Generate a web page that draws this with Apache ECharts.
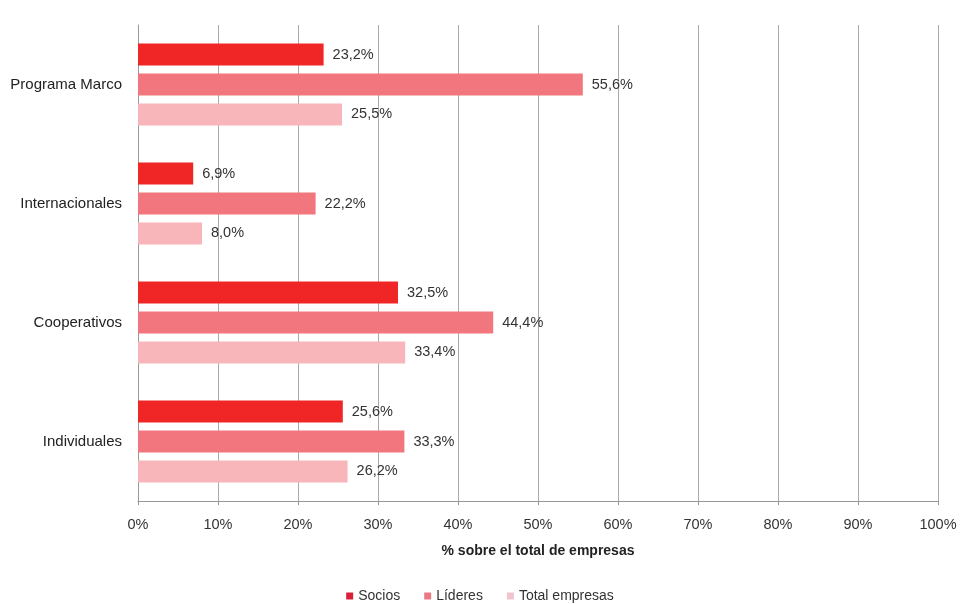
<!DOCTYPE html>
<html><head><meta charset="utf-8">
<script src="https://cdn.jsdelivr.net/npm/echarts@6/dist/echarts.min.js"></script>
<style>html,body{margin:0;padding:0;background:#fff}#c{width:960px;height:604px}</style>
</head><body><div id="c"></div>
<script>
const categories = ['Programa Marco', 'Internacionales', 'Cooperativos', 'Individuales'];
const seriesNames = ['Socios', 'Líderes', 'Total empresas'];
const socios = [23.2, 6.9, 32.5, 25.6];
const lideres = [55.6, 22.2, 44.4, 33.3];
const totalEmpresas = [25.5, 8.0, 33.4, 26.2];
const xTicks = [0, 10, 20, 30, 40, 50, 60, 70, 80, 90, 100];

const colors = ['#f02626', '#f2767d', '#f8b6ba'];
const legendColors = ['#d8203a', '#e87a86', '#f0c4cc'];
const fontFam = '"Liberation Sans", Arial, sans-serif';
const chart = echarts.init(document.getElementById('c'));
const mk = (name, data, i) => ({
  name, type: 'bar', data, barWidth: 22, barGap: '36%', barCategoryGap: '31%',
  itemStyle: { color: colors[i] },
  label: { show: true, position: 'right', distance: 9, color: '#333', fontSize: 14.5, fontFamily: fontFam,
    formatter: p => p.value.toFixed(1).replace('.', ',') + '%' }
});
chart.setOption({
  animation: false,
  textStyle: { fontFamily: fontFam },
  grid: { left: 138, right: 22, top: 25, bottom: 103, containLabel: false },
  legend: { top: 584, left: 'center', itemWidth: 7, itemHeight: 7, itemGap: 24,
    icon: 'rect', textStyle: { fontSize: 14, color: '#333', fontFamily: fontFam },
    data: seriesNames.map((n, i) => ({ name: n, itemStyle: { color: legendColors[i] } })) },
  xAxis: { type: 'value', min: xTicks[0], max: xTicks[xTicks.length - 1], interval: 10,
    name: '% sobre el total de empresas', nameLocation: 'middle', nameGap: 43,
    nameTextStyle: { fontWeight: 'bold', fontSize: 14, color: '#222', fontFamily: fontFam },
    axisLine: { show: true, lineStyle: { color: '#999' } },
    axisTick: { show: true, length: 4, lineStyle: { color: '#999' } },
    axisLabel: { formatter: v => v + '%', color: '#333', fontSize: 14.5, margin: 16, fontFamily: fontFam },
    splitLine: { show: true, lineStyle: { color: '#aaa' } } },
  yAxis: { type: 'category', data: categories, inverse: true,
    axisLine: { show: true, lineStyle: { color: '#999' } }, axisTick: { show: false },
    axisLabel: { color: '#222', fontSize: 15, margin: 16, fontFamily: fontFam } },
  series: [mk(seriesNames[0], socios, 0), mk(seriesNames[1], lideres, 1), mk(seriesNames[2], totalEmpresas, 2)]
});
</script></body></html>
